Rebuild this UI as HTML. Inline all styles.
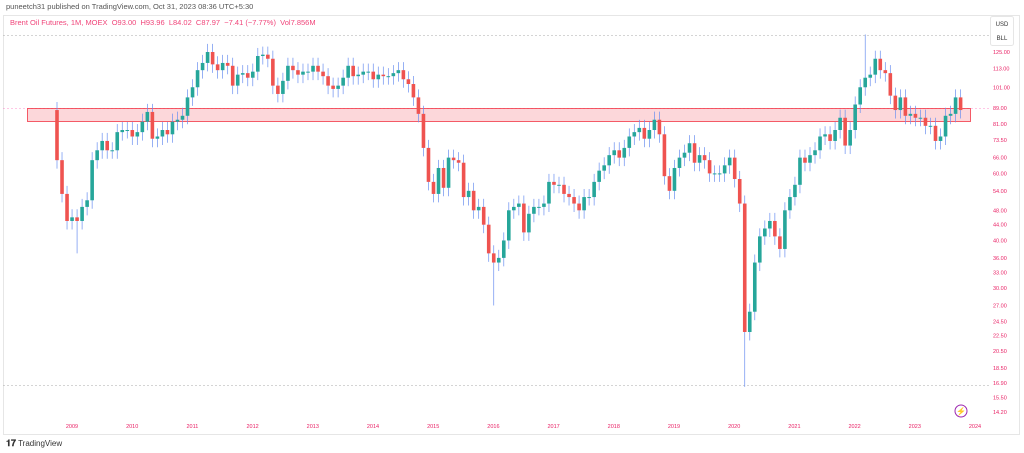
<!DOCTYPE html>
<html><head><meta charset="utf-8"><style>
body{margin:0;width:1024px;height:453px;background:#fff;font-family:"Liberation Sans",sans-serif;overflow:hidden;position:relative}
.t{position:absolute;white-space:nowrap}
</style></head><body>
<div class="t" style="left:6px;top:2px;font-size:7.5px;color:#555">puneetch31 published on TradingView.com, Oct 31, 2023 08:36 UTC+5:30</div>
<svg id="s" width="1024" height="453" style="position:absolute;left:0;top:0"></svg>
<div class="t" style="left:10px;top:18px;font-size:7.5px;color:#f0457a">Brent Oil Futures, 1M, MOEX&nbsp; O93.00&nbsp; H93.96&nbsp; L84.02&nbsp; C87.97&nbsp; −7.41 (−7.77%)&nbsp; Vol7.856M</div>
<div class="t" style="left:6px;top:438px;font-size:8px;color:#333"><b style="font-size:9px">𝟏𝟕</b> TradingView</div>
<script>
const s=document.getElementById('s');let h='';
const Y=p=>52+(Math.log(125)-Math.log(p))*165.4;
h+='<rect x="3.5" y="15.5" width="1016" height="419" fill="none" stroke="#e6e6e6"/>';
h+='<line x1="3" y1="35.5" x2="990" y2="35.5" stroke="#aaa" stroke-dasharray="2,2" stroke-width=".6"/>';
h+='<line x1="3" y1="385.5" x2="990" y2="385.5" stroke="#aaa" stroke-dasharray="2,2" stroke-width=".6"/>';
h+='<line x1="3" y1="108.5" x2="990" y2="108.5" stroke="#f4a" stroke-dasharray="2,2" stroke-width=".6" opacity=".6"/>';
h+='<rect x="27.5" y="108.5" width="943" height="13" fill="rgba(242,54,69,0.2)" stroke="#f23645" stroke-width=".8"/>';
h+='<rect x="990.5" y="16.5" width="23" height="29" rx="2" fill="#fff" stroke="#e6e6e6"/>';
h+='<text x="1002" y="26" font-size="6" fill="#333" text-anchor="middle">USD</text><text x="1002" y="40" font-size="6" fill="#333" text-anchor="middle">BLL</text>';
const labs=[[125,'125.00'],[113,'113.00'],[101,'101.00'],[89,'89.00'],[81,'81.00'],[73.5,'73.50'],[66,'66.00'],[60,'60.00'],[54,'54.00'],[48,'48.00'],[44,'44.00'],[40,'40.00'],[36,'36.00'],[33,'33.00'],[30,'30.00'],[27,'27.00'],[24.5,'24.50'],[22.5,'22.50'],[20.5,'20.50'],[18.5,'18.50'],[16.9,'16.90'],[15.5,'15.50'],[14.2,'14.20']];
labs.forEach(([p,t])=>h+=`<text x="993" y="${Y(p)+2}" font-size="5.5" fill="#e91e63">${t}</text>`);
for(let i=0;i<16;i++){h+=`<text x="${72+i*60.2}" y="428" font-size="5.5" fill="#e91e63" text-anchor="middle">${2009+i}</text>`}
h+='<circle cx="961" cy="411" r="6" fill="none" stroke="#9c27b0" stroke-width="1"/><text x="961" y="414" font-size="8" fill="#9c27b0" text-anchor="middle">⚡</text>';
const c=[88,65,53,45,
46,45,49,51,65,69,73,69,69,77,78,78,
75,77,82,87,74,75,78,76,82,83,85,95,
101,112,117,125,116,112,117,115,102,109,110,107,
111,122,123,120,102,97,105,115,112,109,111,111,
115,111,108,102,100,102,107,115,108,109,111,111,
106,109,108,108,110,112,106,103,95,86,70,57,
53,62,55,66,65,64,52,54,48,49,44,37,
35,36,40,48,49,50,42,47,49,49,50,57,
56,56,53,52,50,48,52,52,57,61,63,67,
69,66,70,75,77,79,74,78,83,76,59,54,
62,66,68,72,64,67,65,60,60,60,63,66,
58,50,23,26,35,41,43,45,41,38,48,52,
56,66,64,67,69,75,76,73,78,84,71,78,
91,101,107,109,120,112,110,96,88,95,85,86,
84,84,80,80,73,75,85,86,95,88];
const special={138:[0,16.5],88:[0,27],162:[139,0],5:[0,37]};
for(let i=1;i<c.length;i++){
 const o=c[i-1],cl=c[i],x=57+(i-1)*5.02;
 let hi=Math.max(o,cl)*1.05,lo=Math.min(o,cl)*0.95;
 if(special[i]){if(special[i][0])hi=special[i][0];if(special[i][1])lo=special[i][1];}
 const col=cl>=o?'#26a69a':'#ef5350';
 h+=`<line x1="${x}" y1="${Y(hi)}" x2="${x}" y2="${Y(lo)}" stroke="#6a8ff0" stroke-width=".7"/>`;
 const y1=Y(Math.max(o,cl)),y2=Y(Math.min(o,cl));
 h+=`<rect x="${x-1.8}" y="${y1}" width="3.6" height="${Math.max(1,y2-y1)}" fill="${col}"/>`;
}
s.innerHTML=h;
</script>
</body></html>
